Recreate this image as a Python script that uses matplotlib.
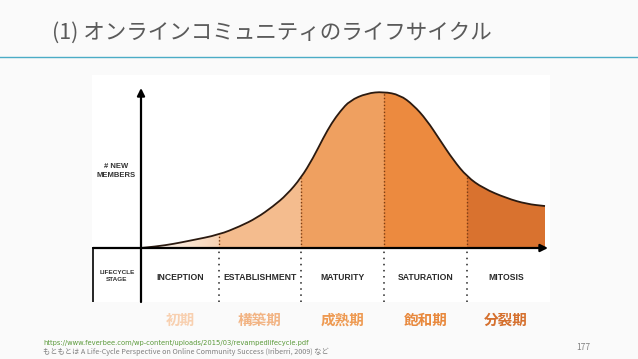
import numpy as np
import matplotlib
matplotlib.use("Agg")
import matplotlib.pyplot as plt
from matplotlib.path import Path
from matplotlib.patches import PathPatch, Rectangle

# ---- data ----
curve_x = [0, 3.9, 8.0, 12.1, 19.3, 24.5, 28.6, 32.7, 36.1, 39.6, 42.6, 45.1, 47.2, 49.3,
           51.7, 55.9, 60.0, 64.1, 67.4, 70.7, 74.0, 77.3, 80.7, 84.7, 90.5, 95.5, 100]
curve_y = [0, 1.0, 2.6, 4.7, 8.5, 13.9, 19.2, 26.7, 34.2, 44.9, 57.7, 70.5, 80.1, 87.6,
           94.5, 99.2, 100.2, 98.1, 91.7, 82.1, 69.2, 56.4, 45.7, 38.3, 31.9, 28.2, 26.9]
stage_edges = [0, 19.3, 39.6, 60.1, 80.7, 100]
stages_en = ["INCEPTION", "ESTABLISHMENT", "MATURITY", "SATURATION", "MITOSIS"]
stages_ja = ["初期", "構築期", "成熟期", "飽和期", "分裂期"]
stage_colors = ["#f7d2b3", "#f4bc8e", "#efa060", "#ec8a3f", "#d9722f"]
ja_colors = ["#f8d0b0", "#f2b484", "#ee9a52", "#e8883c", "#d5702e"]
title = "(1) オンラインコミュニティのライフサイクル"
src1 = "https://www.feverbee.com/wp-content/uploads/2015/03/revampedlifecycle.pdf"
src2 = "もともとは A Life-Cycle Perspective on Online Community Success (Iriberri, 2009) など"
page = "177"

JP = ["Noto Sans CJK JP", "DejaVu Sans"]
W, H = 638, 359
fig = plt.figure(figsize=(W / 100, H / 100), dpi=100, facecolor="#fafafa")

# title + rule
fig.text(52 / W, 1 - 33 / H, title, fontsize=15.5, color="#5a5a5a", family=JP,
         va="center", ha="left")
fig.add_artist(plt.Line2D([0, 1], [1 - 57 / H, 1 - 57 / H], color="#4bacc6", lw=1.0))

# chart axes (image area)
L, R, T, B = 92, 550, 75, 302
ax = fig.add_axes([L / W, 1 - B / H, (R - L) / W, (B - T) / H])
x0px, sx = 141, 4.04
y0px, sy = 248, 1.56
ax.set_xlim((L - x0px) / sx, (R - x0px) / sx)
ax.set_ylim((y0px - B) / sy, (y0px - T) / sy)
ax.axis("off")
ax.add_patch(Rectangle((0, 0), 1, 1, transform=ax.transAxes, facecolor="white",
                       edgecolor="none", zorder=0))

# smooth path through the read points (quadratic midpoint smoothing)
pts = np.column_stack([curve_x, curve_y])
verts = [tuple(pts[0])]
codes = [Path.MOVETO]
for i in range(1, len(pts) - 1):
    mid = (pts[i] + pts[i + 1]) / 2
    verts += [tuple(pts[i]), tuple(mid)]
    codes += [Path.CURVE3, Path.CURVE3]
verts.append(tuple(pts[-1]))
codes.append(Path.LINETO)
line_path = Path(verts, codes)
fill_verts = verts + [(curve_x[-1], 0), (curve_x[0], 0), verts[0]]
fill_codes = codes + [Path.LINETO, Path.LINETO, Path.CLOSEPOLY]
fill_path = Path(fill_verts, fill_codes)
clip = PathPatch(fill_path, transform=ax.transData, facecolor="none", edgecolor="none")
ax.add_patch(clip)

# stage fills
for i in range(5):
    if i == 0:
        grad = np.linspace(0, 1, 256).reshape(1, -1)
        cmap = matplotlib.colors.LinearSegmentedColormap.from_list("g", ["#ffffff", stage_colors[0]])
        im = ax.imshow(grad, extent=(stage_edges[0], stage_edges[1], 0, 105), cmap=cmap,
                       aspect="auto", zorder=1)
        im.set_clip_path(clip)
    else:
        r = Rectangle((stage_edges[i], 0), stage_edges[i + 1] - stage_edges[i], 105,
                      facecolor=stage_colors[i], edgecolor="none", zorder=1)
        ax.add_patch(r)
        r.set_clip_path(clip)

ax.add_patch(PathPatch(line_path, facecolor="none", edgecolor="#2b1a10", lw=1.3, zorder=3))

# dotted stage separators
ybot = (y0px - B) / sy
for e in stage_edges[1:-1]:
    ytop = np.interp(e, curve_x, curve_y)
    ax.plot([e, e], [0, ytop], ls=(0, (1, 1.5)), color="#7a3d15", lw=1.0, zorder=2)
    ax.plot([e, e], [ybot, 0], ls=(0, (1, 3)), color="#222222", lw=1.1, zorder=2)

# axes arrows
ax.annotate("", xy=(0, (y0px - 88) / sy), xytext=(0, ybot),
            arrowprops=dict(arrowstyle="-|>", lw=1.6, color="black", mutation_scale=11,
                            shrinkA=0, shrinkB=0), zorder=4)
ax.annotate("", xy=((548 - x0px) / sx, 0), xytext=((L + 1 - x0px) / sx, 0),
            arrowprops=dict(arrowstyle="-|>", lw=1.6, color="black", mutation_scale=11,
                            shrinkA=0, shrinkB=0), zorder=4)
ax.plot([(L + 1 - x0px) / sx] * 2, [ybot, 0], color="black", lw=1.2, zorder=4)

# labels
ax.text((116 - x0px) / sx, (y0px - 171) / sy, "# NEW\nMEMBERS", ha="center", va="center",
        fontsize=5.5, fontweight="bold", color="#333333", family="Liberation Sans",
        linespacing=1.35)
ax.text((117 - x0px) / sx, (y0px - 276) / sy, "LIFECYCLE\nSTAGE", ha="center", va="center",
        fontsize=4.6, fontweight="bold", color="#333333", family="Liberation Sans",
        linespacing=1.5)
for i, name in enumerate(stages_en):
    cx = (stage_edges[i] + stage_edges[i + 1]) / 2
    ax.text(cx, (y0px - 277) / sy, name, ha="center", va="center", fontsize=6.2,
            fontweight="bold", color="#2a2a2a", family="Liberation Sans")
    ax.text(cx, (y0px - 320) / sy, stages_ja[i], ha="center", va="center", fontsize=10.5,
            fontweight="bold", color=ja_colors[i], family=JP, clip_on=False)

# footnotes
fig.text(43 / W, 1 - 343 / H, src1, fontsize=4.85, color="#5b9a3a", family="DejaVu Sans",
         va="center", ha="left")
fig.text(43 / W, 1 - 352 / H, src2, fontsize=5.2, color="#808080", family=JP,
         va="center", ha="left")
fig.text(583 / W, 1 - 348 / H, page, fontsize=6, color="#808080", family=JP,
         va="center", ha="center")

fig.savefig("out.png", dpi=100, facecolor=fig.get_facecolor())
